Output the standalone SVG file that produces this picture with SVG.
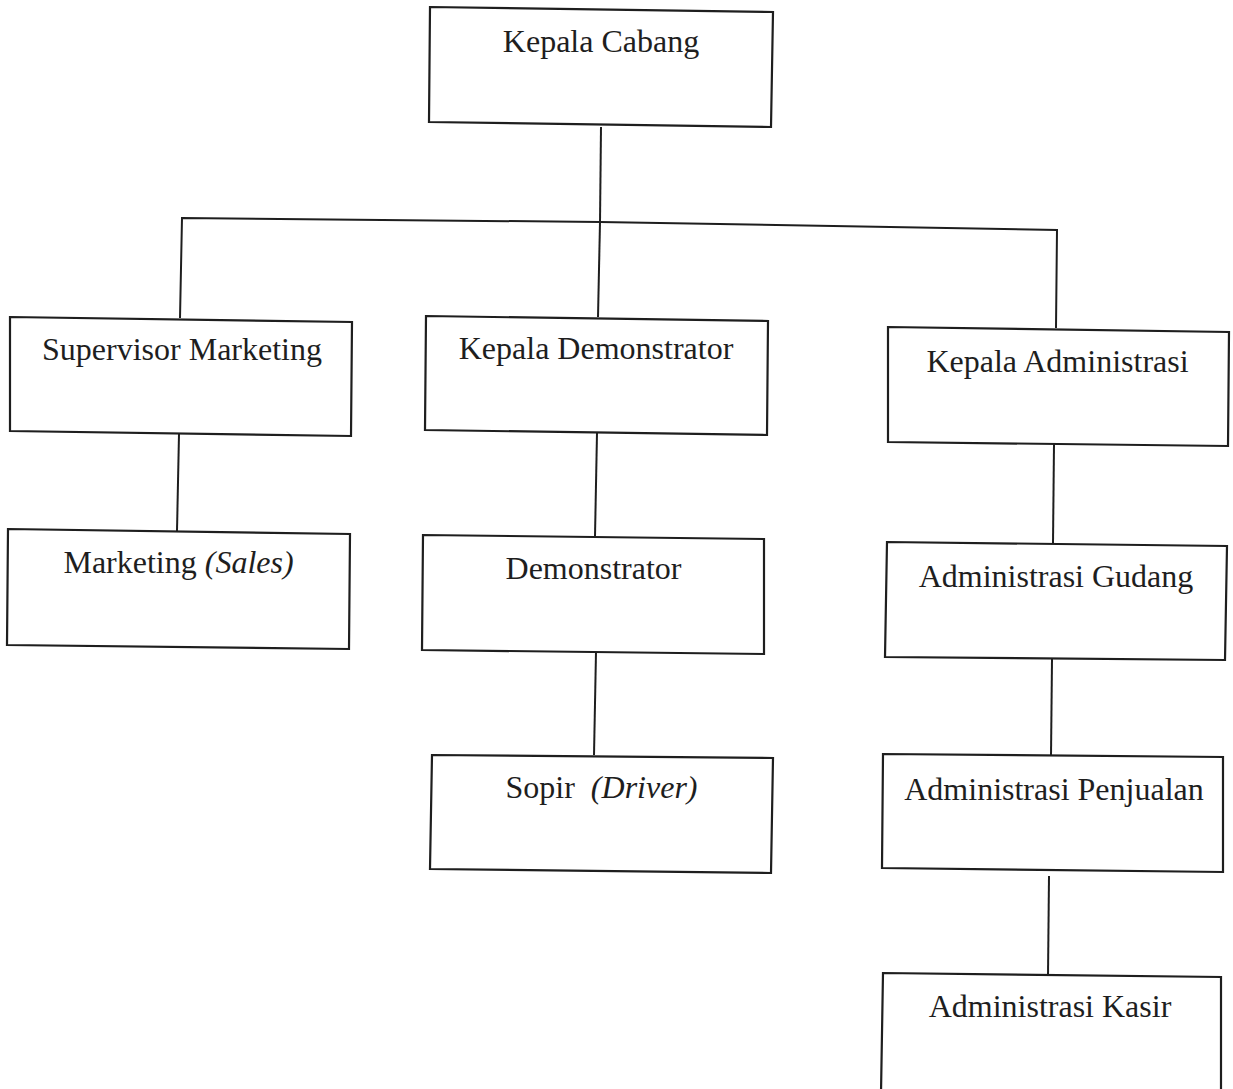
<svg xmlns="http://www.w3.org/2000/svg" width="1233" height="1089" viewBox="0 0 1233 1089">
<style>
.box{fill:#fff;stroke:#1e1e1e;stroke-width:2.2;stroke-linejoin:miter}
.ln{fill:none;stroke:#1e1e1e;stroke-width:2}
text{font-family:"Liberation Serif","Times New Roman",serif;font-size:32px;fill:#1e1e1e;text-anchor:middle}
.it{font-style:italic}
</style>
<rect width="1233" height="1089" fill="#fff"/>
<g id="connectors">
<polyline class="ln" points="601,127 600,222"/>
<polyline class="ln" points="180,318 182,218 600,222 1057,230 1056,328"/>
<polyline class="ln" points="600,222 598,317"/>
<polyline class="ln" points="179,434 177,531"/>
<polyline class="ln" points="597,433 595,536"/>
<polyline class="ln" points="1054,444 1053,543"/>
<polyline class="ln" points="596,652 594,755"/>
<polyline class="ln" points="1052,659 1051,755"/>
<polyline class="ln" points="1049,876 1048,975"/>
</g>
<g id="kepala-cabang">
<polygon class="box" points="430,7 773,12 771,127 429,122"/>
<text x="601" y="52">Kepala Cabang</text>
</g>
<g id="supervisor-marketing">
<polygon class="box" points="10,317 352,322 351,436 10,431"/>
<text x="182" y="360">Supervisor Marketing</text>
</g>
<g id="kepala-demonstrator">
<polygon class="box" points="426,316 768,321 767,435 425,430"/>
<text x="596" y="359">Kepala Demonstrator</text>
</g>
<g id="kepala-administrasi">
<polygon class="box" points="888,327 1229,332 1228,446 888,442"/>
<text x="1057.5" y="372">Kepala Administrasi</text>
</g>
<g id="marketing-sales">
<polygon class="box" points="8,529 350,534 349,649 7,645"/>
<text x="178.5" y="573">Marketing <tspan class="it">(Sales)</tspan></text>
</g>
<g id="demonstrator">
<polygon class="box" points="423,535 764,539 764,654 422,650"/>
<text x="593.5" y="579">Demonstrator</text>
</g>
<g id="administrasi-gudang">
<polygon class="box" points="887,542 1227,546 1225,660 885,657"/>
<text x="1056" y="587">Administrasi Gudang</text>
</g>
<g id="sopir">
<polygon class="box" points="432,755 773,758 771,873 430,869"/>
<text x="601.5" y="798">Sopir <tspan class="it" dx="8">(Driver)</tspan></text>
</g>
<g id="administrasi-penjualan">
<polygon class="box" points="883,754 1223,757 1223,872 882,868"/>
<text x="1054" y="800">Administrasi Penjualan</text>
</g>
<g id="administrasi-kasir">
<polygon class="box" points="883,973 1221,977 1221,1093 881,1093"/>
<text x="1050" y="1017">Administrasi Kasir</text>
</g>
</svg>
